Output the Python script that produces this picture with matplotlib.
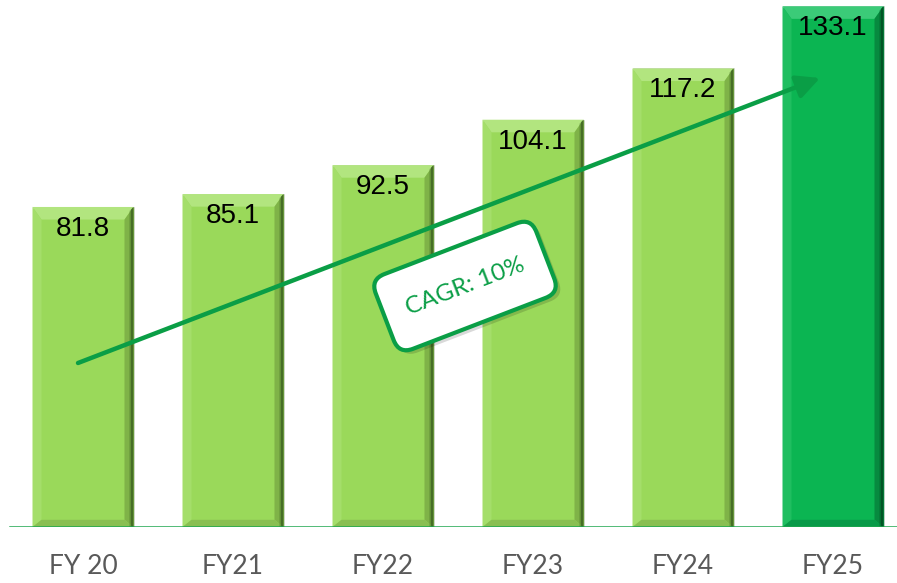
import matplotlib
matplotlib.use("Agg")
import matplotlib.pyplot as plt
from matplotlib.patches import Polygon, FancyBboxPatch
from matplotlib.transforms import Affine2D, IdentityTransform

categories = ["FY 20", "FY21", "FY22", "FY23", "FY24", "FY25"]
values = [81.8, 85.1, 92.5, 104.1, 117.2, 133.1]
value_labels = ["81.8", "85.1", "92.5", "104.1", "117.2", "133.1"]
cagr_label = "CAGR: 10%"

light = dict(face="#9ad95a", top="#b2e57f", left="#a4de6a", right="#7fb348", bottom="#89bf51",
             edge="#2f5218")
dark = dict(face="#0bb552", top="#3bcb78", left="#1fbe60", right="#078a3f", bottom="#089a48",
            edge="#00401c")
styles = [light] * 5 + [dark]

W, H, DPI = 8.97, 5.83, 100
fig = plt.figure(figsize=(W, H), dpi=DPI)
ax = fig.add_axes([0, 56 / 583, 1, 527 / 583])
xmin, xmax = -83 / 150, (897 - 83) / 150
ymax = 134.7
ax.set_xlim(xmin, xmax)
ax.set_ylim(0, ymax)
for s in ax.spines.values():
    s.set_visible(False)
ax.set_xticks([])
ax.set_yticks([])

x = list(range(len(categories)))
bar_w = 101 / 150
bars = ax.bar(x, values, width=bar_w, color=[s["face"] for s in styles],
              edgecolor="#d0d0d0", linewidth=0.5, zorder=2)

# pixel -> data scale
px_x = (xmax - xmin) / 897
px_y = ymax / 527
bev = 9
for b, st in zip(bars, styles):
    x0, y0 = b.get_x(), b.get_y()
    x1, y1 = x0 + b.get_width(), y0 + b.get_height()
    bx, by = bev * px_x, bev * px_y
    ix0, ix1, iy0, iy1 = x0 + bx, x1 - bx, y0 + by * 0.8, y1 - by * 1.4
    ax.add_patch(Polygon([(x0, y1), (x1, y1), (ix1, iy1), (ix0, iy1)], closed=True,
                         fc=st["top"], ec="none", zorder=3))
    ax.add_patch(Polygon([(x0, y0), (x0, y1), (ix0, iy1), (ix0, iy0)], closed=True,
                         fc=st["left"], ec="none", zorder=3))
    ax.add_patch(Polygon([(x1, y0), (x1, y1), (ix1, iy1), (ix1, iy0)], closed=True,
                         fc=st["right"], ec="none", zorder=3))
    ax.add_patch(Polygon([(x0, y0), (x1, y0), (ix1, iy0), (ix0, iy0)], closed=True,
                         fc=st["bottom"], ec="none", zorder=3))
    # dark shaded edge on right
    for k, a in zip([4, 2.5], [0.35, 0.55]):
        ax.add_patch(Polygon([(x1 - k * px_x, y0), (x1, y0), (x1, y1), (x1 - k * px_x, y1 - k * px_y)],
                             closed=True, fc=st["edge"], ec="none", alpha=a, zorder=3))

for xi, v, lab in zip(x, values, value_labels):
    ax.text(xi, v - 22 * px_y, lab, ha="center", va="center", fontsize=20,
            family="Liberation Sans", color="black", zorder=5)

# baseline
ax.axhline(0, color="#1ea64e", lw=1.8, zorder=4, xmin=10 / 897, xmax=1)

# category labels
for xi, c in zip(x, categories):
    ax.text(xi, -40 * px_y, c, ha="center", va="center", fontsize=19,
            family="Lato", color="#595959", clip_on=False)

# trend arrow
ax.annotate("", xy=((820 - 83) / 150, (527 - 78) * px_y), xytext=((78 - 83) / 150, (527 - 363) * px_y),
            arrowprops=dict(arrowstyle="-|>,head_length=0.7,head_width=0.35", lw=3.2,
                            color="#0a9e46", shrinkA=0, shrinkB=0, mutation_scale=20),
            zorder=6)

# CAGR box (in display pixels)
cx, cy = 465, 583 - 286
bw, bh = 172, 80
ang = 21
rot = Affine2D().rotate_deg_around(cx, cy, ang) + IdentityTransform()
shadow = FancyBboxPatch((cx - bw / 2 + 3, cy - bh / 2 - 5), bw, bh,
                        boxstyle="round,pad=0,rounding_size=15", transform=rot,
                        fc="#000000", ec="none", alpha=0.15, zorder=7)
fig.patches.append(shadow)
box = FancyBboxPatch((cx - bw / 2, cy - bh / 2), bw, bh,
                     boxstyle="round,pad=0,rounding_size=15", transform=rot,
                     fc="white", ec="#0a9e46", lw=3, zorder=8)
fig.patches.append(box)
fig.text(cx / 897, cy / 583, cagr_label, rotation=ang, rotation_mode="anchor",
         ha="center", va="center", fontsize=17.5, family="Lato", color="#0a9e46", zorder=9)

fig.savefig("out.png", dpi=DPI)
